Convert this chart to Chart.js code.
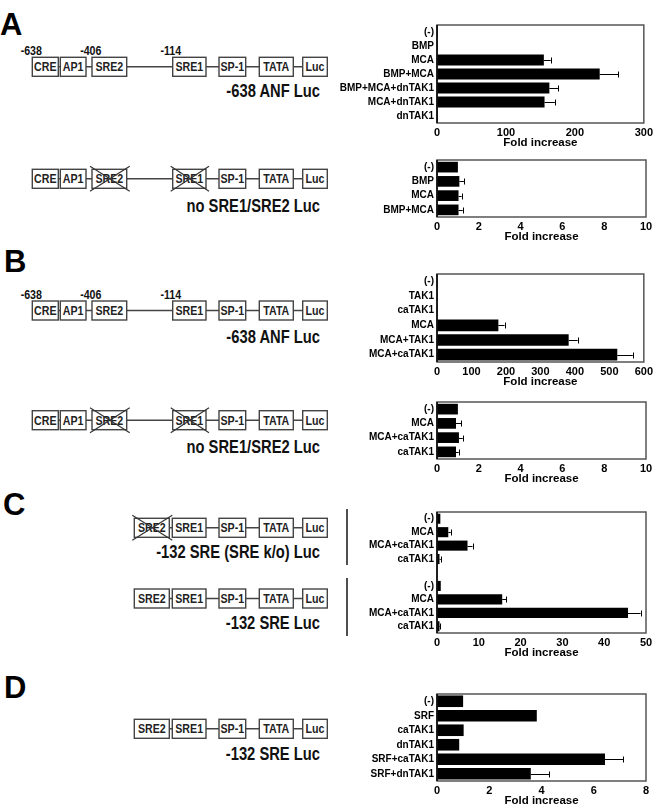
<!DOCTYPE html>
<html><head><meta charset="utf-8">
<script src="https://cdn.jsdelivr.net/npm/chart.js@4"></script>
<style>
html,body{margin:0;padding:0;background:#fff;}
#wrap{position:relative;width:656px;height:808px;overflow:hidden;}
canvas{position:absolute;}
svg{position:absolute;left:0;top:0;}
</style></head><body>
<div id="wrap"><svg id="dg" width="656" height="808"></svg></div>
<script>
// ---------- DATA ----------
const a1Labels = ['(-)','BMP','MCA','BMP+MCA','BMP+MCA+dnTAK1','MCA+dnTAK1','dnTAK1'];
const a1Values = [1, 1, 155, 236, 163, 156, 1];
const a1Err    = [0, 0, 10, 27, 13, 15, 0];

const a2Labels = ['(-)','BMP','MCA','BMP+MCA'];
const a2Values = [1.0, 1.07, 1.03, 1.03];
const a2Err    = [0, 0.22, 0.15, 0.2];

const b1Labels = ['(-)','TAK1','caTAK1','MCA','MCA+TAK1','MCA+caTAK1'];
const b1Values = [1, 1, 1, 178, 382, 523];
const b1Err    = [0, 0, 0, 18, 26, 45];

const b2Labels = ['(-)','MCA','MCA+caTAK1','caTAK1'];
const b2Values = [1.0, 0.91, 1.05, 0.91];
const b2Err    = [0, 0.24, 0.18, 0.13];

const cLabels = ['(-)','MCA','MCA+caTAK1','caTAK1','','(-)','MCA','MCA+caTAK1','caTAK1'];
const cValues = [0.8, 2.7, 7.3, 0.6, null, 0.9, 15.6, 45.7, 0.6];
const cErr    = [0, 0.6, 1.2, 0.3, 0, 0, 1.0, 3.0, 0.2];

const dLabels = ['(-)','SRF','caTAK1','dnTAK1','SRF+caTAK1','SRF+dnTAK1'];
const dValues = [1.0, 3.82, 1.02, 0.85, 6.43, 3.59];
const dErr    = [0, 0, 0, 0, 0.7, 0.71];

const xMax  = {a1:300, a2:10, b1:600, b2:10, c:50, d:8};
const xStep = {a1:100, a2:2,  b1:100, b2:2,  c:10, d:2};
const axisTitle = 'Fold increase';

// ---------- STYLE ----------
const FONT = "Arial, 'Liberation Sans', sans-serif";
const wrap = document.getElementById('wrap');

const errPlugin = {
  id:'err',
  afterDatasetsDraw(chart){
    const ds = chart.data.datasets[0], err = ds.err;
    const meta = chart.getDatasetMeta(0), xs = chart.scales.x, ctx = chart.ctx;
    ctx.save(); ctx.strokeStyle='#000'; ctx.lineWidth=1;
    meta.data.forEach((bar,i)=>{
      const v = ds.data[i];
      if(v==null || !err[i]) return;
      const x0 = xs.getPixelForValue(v), x1 = xs.getPixelForValue(v+err[i]);
      const y = Math.round(bar.y)+0.5;
      ctx.beginPath(); ctx.moveTo(x0,y); ctx.lineTo(x1,y);
      ctx.moveTo(Math.round(x1)+0.5,y-3); ctx.lineTo(Math.round(x1)+0.5,y+3); ctx.stroke();
    });
    ctx.restore();
  }
};
const boxPlugin = {
  id:'box',
  afterDraw(chart){
    const a = chart.chartArea, ctx = chart.ctx;
    ctx.save(); ctx.strokeStyle='#555'; ctx.lineWidth=1.5;
    ctx.strokeRect(a.left, a.top, a.right-a.left, a.bottom-a.top);
    ctx.strokeStyle='#000'; ctx.beginPath(); ctx.moveTo(a.left,a.top); ctx.lineTo(a.left,a.bottom); ctx.stroke();
    ctx.restore();
  }
};

function mk(labels, values, errs, max, step, plotTop, plotBottom, barPct){
  const c = document.createElement('canvas');
  const h = plotBottom - plotTop + 4 + 27;
  c.width = 326; c.height = Math.round(h);
  c.style.left = '330px'; c.style.top = (plotTop-4)+'px';
  wrap.appendChild(c);
  new Chart(c, {
    type:'bar',
    data:{labels, datasets:[{data:values, err:errs, backgroundColor:'#000', borderWidth:0,
      categoryPercentage:1, barPercentage:barPct}]},
    options:{
      indexAxis:'y', responsive:false, animation:false, devicePixelRatio:1,
      layout:{padding:{top:4,right:10,left:0,bottom:0}},
      plugins:{legend:{display:false}, tooltip:{enabled:false}},
      scales:{
        x:{min:0, max, grid:{display:false, drawTicks:false}, border:{display:false},
           ticks:{stepSize:step, color:'#000', padding:3, font:{family:FONT, size:11, weight:'bold'}},
           title:{display:true, text:axisTitle, color:'#000', padding:0, font:{family:FONT, size:11.5, weight:'bold'}},
           afterFit:s=>{s.height=27;}},
        y:{grid:{display:false, drawTicks:false}, border:{display:false},
           ticks:{color:'#000', padding:3, autoSkip:false, font:{family:FONT, size:10, weight:'bold'}},
           afterFit:s=>{s.width=107;}}
      }
    },
    plugins:[errPlugin, boxPlugin]
  });
}

mk(a1Labels, a1Values, a1Err, xMax.a1, xStep.a1, 20, 123.3, 0.8);
mk(a2Labels, a2Values, a2Err, xMax.a2, xStep.a2, 155.3, 217.3, 0.75);
mk(b1Labels, b1Values, b1Err, xMax.b1, xStep.b1, 269, 362.3, 0.8);
mk(b2Labels, b2Values, b2Err, xMax.b2, xStep.b2, 396.7, 458.3, 0.75);
mk(cLabels,  cValues,  cErr,  xMax.c,  xStep.c,  507.3, 633.3, 0.75);
mk(dLabels,  dValues,  dErr,  xMax.d,  xStep.d,  689, 780.7, 0.8);

// ---------- PROMOTER DIAGRAMS (SVG) ----------
const svg = document.getElementById('dg');
const NS = 'http://www.w3.org/2000/svg';
function el(tag, attrs, text){
  const e = document.createElementNS(NS, tag);
  for(const k in attrs) e.setAttribute(k, attrs[k]);
  if(text!=null) e.textContent = text;
  svg.appendChild(e); return e;
}
function ctext(t, x, y, size, anchor, fill){
  el('text',{x:0,y:0,transform:`translate(${x},${y}) scale(0.82,1)`,'text-anchor':anchor,
    'font-family':FONT,'font-weight':'bold','font-size':size,fill},t);
}
const fullBoxes = [['CRE',32.3,58.3],['AP1',60.3,86],['SRE2',92,126.7],['SRE1',172.7,206],['SP-1',219,245.7],['TATA',259.3,293.3],['Luc',302.7,327.3]];
const shortBoxes = [['SRE2',134.3,169.3],['SRE1',172.3,206],['SP-1',219,245.7],['TATA',259.3,293.3],['Luc',302.7,327.3]];
function construct(boxes, top, crossed, label, labelY, nums, numY){
  const h = 19, mid = top + h/2;
  el('line',{x1:boxes[0][1],x2:boxes[boxes.length-1][2],y1:mid,y2:mid,stroke:'#444','stroke-width':1.4});
  boxes.forEach(([t,x0,x1])=>{
    el('rect',{x:x0,y:top,width:x1-x0,height:h,fill:'#fff',stroke:'#444','stroke-width':1.4});
    ctext(t,(x0+x1)/2,mid+4.5,13,'middle','#222');
    if(crossed.includes(t)){
      el('line',{x1:x0-2,y1:top-3,x2:x1+3,y2:top+h+3,stroke:'#333','stroke-width':1.2});
      el('line',{x1:x0-2,y1:top+h+3,x2:x1+3,y2:top-3,stroke:'#333','stroke-width':1.2});
    }
  });
  ctext(label,320,labelY+6.5,18,'end','#111');
  if(nums) nums.forEach(([t,cx])=>ctext(t,cx,numY+4.5,13,'middle','#111'));
}
const posNums = [['-638',31.3],['-406',90.8],['-114',170.8]];
construct(fullBoxes, 57.3, [], '-638 ANF Luc', 90.7, posNums, 50);
construct(fullBoxes, 169.3, ['SRE2','SRE1'], 'no SRE1/SRE2 Luc', 205.7);
construct(fullBoxes, 301, [], '-638 ANF Luc', 336.7, posNums, 294);
construct(fullBoxes, 410.7, ['SRE2','SRE1'], 'no SRE1/SRE2 Luc', 446.7);
construct(shortBoxes, 518.3, ['SRE2'], '-132 SRE (SRE k/o) Luc', 551.7);
construct(shortBoxes, 589, [], '-132 SRE Luc', 622.7);
construct(shortBoxes, 719.3, [], '-132 SRE Luc', 753.3);

// panel C bracket lines
el('line',{x1:347,x2:347,y1:509,y2:565,stroke:'#222','stroke-width':1.6});
el('line',{x1:347,x2:347,y1:578,y2:636,stroke:'#222','stroke-width':1.6});

// panel letters
[['A',0,35],['B',4,271.7],['C',3,515],['D',4,697.5]].forEach(([t,x,y])=>
  el('text',{x,y,'font-family':FONT,'font-weight':'bold','font-size':31,fill:'#000'},t));
</script>
</body></html>
